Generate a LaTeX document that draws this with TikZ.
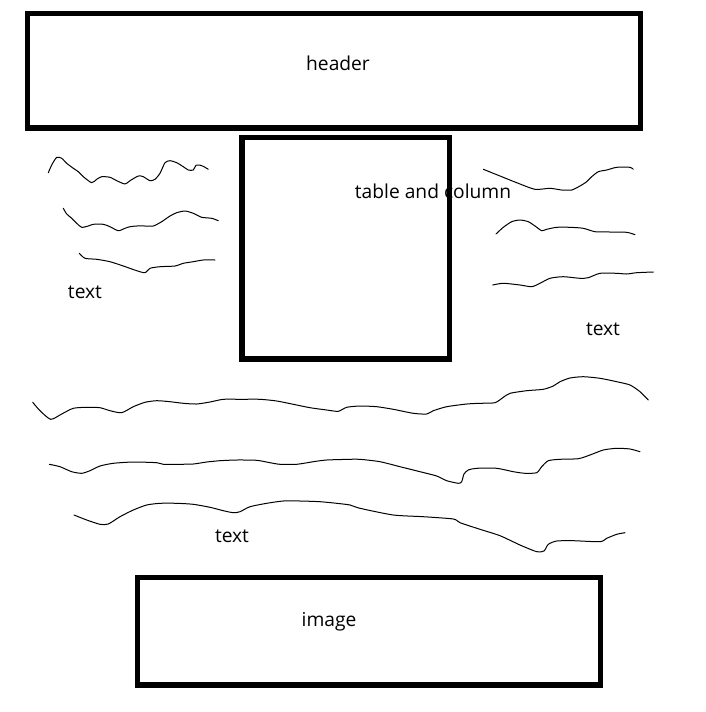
\documentclass[tikz,border=0pt]{standalone}
\usepackage{fontspec}
\setmainfont{Open Sans}
\begin{document}
\begin{tikzpicture}[x=1pt,y=-1pt,
  boxshape/.style={draw=black, line width=5.3pt, rectangle, inner sep=0pt, outer sep=0pt},
  lbl/.style={inner sep=0pt, font=\fontsize{19.2}{22}\selectfont, text=black},
  scribble/.style={draw=black, line width=1pt, line join=round, line cap=round}]
\useasboundingbox[fill=white] (0,0) rectangle (705,712);

% boxes
\node[boxshape, minimum width=613.3pt, minimum height=114.5pt] (hdr) at (334.15,70.75) {};
\node[boxshape, minimum width=207.3pt, minimum height=221.5pt] (tbl) at (345.65,248.25) {};
\node[boxshape, minimum width=463.6pt, minimum height=107.8pt] (img) at (369,631.1) {};

% labels
\node[lbl] (hdrtext) at (338,63.5) {header};
\node[lbl] (tbltext) at (433,191) {table and column};
\node[lbl] (imgtext) at (329,622) {image};
\node[lbl] (textl) at (85,292) {text};
\node[lbl] (textr) at (603,329) {text};
\node[lbl] (textb) at (232,536) {text};

% left scribbles
\draw[scribble] plot[smooth, tension=0.4] coordinates {(48.3,172.7) (51.7,165) (56.7,157.3) (61.7,158.3) (66.7,163.3) (73.3,168.3) (78.3,171.7) (83.3,176.7) (91.7,182.7) (96.7,179.3) (101.7,176.7) (110,177.3) (116.7,180.7) (125,184) (130,180.7) (138.3,176) (143.3,176.7) (150,180.7) (155,179.3) (160,173.3) (165,162.7) (170,160.7) (176.7,162.7) (183.3,166.7) (188.3,170) (193.3,170) (196,165.3) (200.7,165.3) (205,167.3) (208.3,169.3)};
\draw[scribble] plot[smooth, tension=0.4] coordinates {(63.3,208.3) (66.7,214) (71.7,218.3) (76.7,223.3) (81.7,227.3) (88.3,226) (93.3,224.3) (103.3,224.3) (110,226.7) (118.3,230.7) (125,228.3) (130,226.7) (136.7,226) (145,226) (153.3,226) (161.7,221.7) (170,216) (176.7,212.7) (185,211) (193.3,213.3) (201.7,217.3) (211.7,218.3) (218.3,220.7)};
\draw[scribble] plot[smooth, tension=0.4] coordinates {(79.3,253.3) (85,258.3) (96.7,259.3) (110,261.7) (123.3,266) (136.7,270.7) (145,272.7) (150,268.3) (160,266.7) (175,266) (183.3,263.3) (193.3,261.7) (203.3,260) (215,260)};

% right scribbles
\draw[scribble] plot[smooth, tension=0.4] coordinates {(483.3,169.3) (500,176) (516.7,182.7) (535,189.3) (550,188.3) (561.7,190) (571.7,190) (580,186) (586.7,181.7) (591.7,176.7) (598.3,171.7) (606.7,170) (616.7,167.3) (630,167.3) (633.3,169.3)};
\draw[scribble] plot[smooth, tension=0.4] coordinates {(496,234) (503.3,227.3) (511.7,221.7) (520,220) (528.3,221.7) (535,226) (541.7,230.7) (546.7,229.3) (556.7,227.3) (570,227.3) (583.3,228.3) (595,231.7) (610,232) (626.7,232.3) (635,234.7)};
\draw[scribble] plot[smooth, tension=0.4] coordinates {(492.7,285) (503.3,283.3) (520,285) (531.7,286.7) (540,283.3) (550,278.3) (563.3,276.7) (580,278.3) (588.3,277.7) (600,273.3) (616.7,273.3) (626.7,274) (636.7,272.7) (653.3,272)};

% long scribbles
\draw[scribble] plot[smooth, tension=0.4] coordinates {(32.7,402.3) (40,410.7) (50.7,419.3) (61.7,414) (73.3,408.3) (86.7,407.3) (100,407.7) (110,410.7) (121.7,412.7) (133.3,406.7) (145,402.3) (156.7,400.7) (170,401.7) (183.3,403.3) (196.7,404) (210,402) (223.3,399.3) (240,399.3) (260,399.3) (276.7,401) (293.3,404.3) (310,407.7) (326.7,410) (338.3,411.3) (346.7,407.3) (360,406) (376.7,406.7) (393.3,409.3) (413.3,413.3) (426.7,414) (433.3,410.7) (446.7,406.7) (466.7,404) (480,403.3) (495,402.7) (503.3,397.3) (510,393.3) (526.7,390.7) (543.3,389.3) (553.3,386) (560,381.7) (570,378) (583.3,376.7) (600,378.3) (616.7,381.7) (630,385) (640,391.7) (648.3,400)};
\draw[scribble] plot[smooth, tension=0.4] coordinates {(49.3,464.3) (60,466.7) (71.7,471.7) (81.7,473.3) (90,470.7) (100,466) (113.3,463.3) (133.3,462) (156.7,462.7) (163.3,464.3) (176.7,464.3) (193.3,464) (206.7,462) (220,460.7) (236.7,460) (256.7,460.3) (270,462.7) (280,464.3) (296.7,464.3) (313.3,461.7) (326.7,460) (350,459.3) (360,459.3) (380,461.7) (400,466.7) (420,471.7) (436.7,476) (446.7,480.7) (458.3,483.3) (461.7,481.7) (464,474) (468.3,470) (476.7,468.3) (496.7,468.3) (513.3,471.7) (525,473.3) (536.7,472.7) (541.7,466.7) (548.3,460.7) (560,459.3) (578.3,458.7) (590,455) (603.3,450) (616.7,448.3) (630,449) (640,451.7)};
\draw[scribble] plot[smooth, tension=0.4] coordinates {(74,515) (86.7,520) (100,524.3) (108.3,524) (120,516.7) (133.3,510) (146.7,505) (160,503.3) (176.7,503.3) (193.3,504.3) (210,507.3) (223.3,510.7) (233.3,512.7) (240,511.7) (250,506.7) (266.7,503.3) (283.3,501) (300,501) (320,501.7) (336.7,503.3) (350,505) (360,508.3) (393.3,515) (423.3,516.7) (453.3,519) (460,522.7) (480,529.3) (500,535.7) (520,545) (536.7,551.7) (544,551) (548.3,544.3) (556.7,541) (573.3,540.7) (600,541.7) (606.7,538.3) (616.7,534.3) (625,532.7)};
\end{tikzpicture}
\end{document}
